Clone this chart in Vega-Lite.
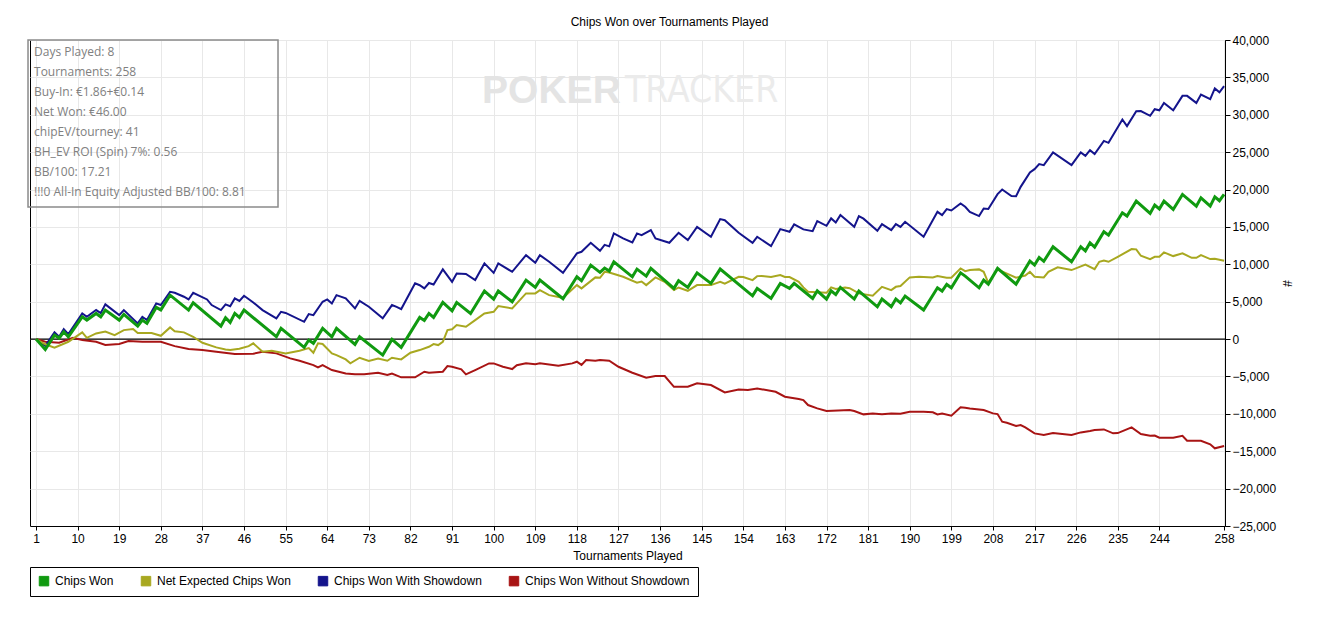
{
  "$schema": "https://vega.github.io/schema/vega-lite/v6.json",
  "autosize": {"type": "none"},
  "padding": {"left": 30, "top": 40, "right": 100, "bottom": 91},
  "width": 1195,
  "height": 486,
  "background": "white",
  "config": {
    "view": {"stroke": "#000", "strokeWidth": 1},
    "font": "Liberation Sans",
    "axis": {
      "labelFont": "Liberation Sans", "titleFont": "Liberation Sans",
      "labelFontSize": 12, "titleFontSize": 12, "titleFontWeight": "normal",
      "labelColor": "#000", "titleColor": "#000",
      "domainColor": "#000", "tickColor": "#000",
      "gridColor": "#e8e8e8", "labelFlush": false, "labelOverlap": false
    },
    "legend": {
      "labelFont": "Liberation Sans", "labelFontSize": 12, "labelColor": "#000", "labelLimit": 400
    }
  },
  "title": {
    "text": "Chips Won over Tournaments Played",
    "fontSize": 12, "fontWeight": "normal", "color": "#000",
    "font": "Liberation Sans", "offset": 5, "dx": 42
  },
  "datasets": {
    "won": [
      {"t":1,"v":0},{"t":3,"v":-1400},{"t":5,"v":530},{"t":6,"v":130},{"t":7,"v":980},{"t":8,"v":310},{"t":11,"v":2980},{"t":12,"v":2540},{"t":14,"v":3430},{"t":15,"v":2980},{"t":16,"v":3880},{"t":19,"v":2540},{"t":20,"v":3300},{"t":23,"v":1740},{"t":24,"v":2540},{"t":25,"v":2100},{"t":27,"v":4240},{"t":28,"v":3900},{"t":30,"v":5880},{"t":34,"v":3880},{"t":35,"v":4850},{"t":41,"v":1740},{"t":42,"v":2850},{"t":43,"v":2230},{"t":44,"v":3430},{"t":45,"v":2900},{"t":46,"v":3880},{"t":53,"v":310},{"t":54,"v":1430},{"t":59,"v":-1110},{"t":60,"v":-130},{"t":61,"v":-570},{"t":63,"v":1430},{"t":65,"v":310},{"t":66,"v":1430},{"t":70,"v":-710},{"t":71,"v":310},{"t":76,"v":-2140},{"t":78,"v":-40},{"t":80,"v":-1110},{"t":84,"v":2900},{"t":85,"v":2500},{"t":86,"v":3430},{"t":87,"v":2900},{"t":89,"v":4900},{"t":91,"v":3780},{"t":92,"v":4900},{"t":95,"v":3430},{"t":98,"v":6420},{"t":100,"v":5350},{"t":101,"v":6420},{"t":104,"v":4990},{"t":107,"v":7890},{"t":109,"v":6910},{"t":110,"v":7890},{"t":115,"v":5390},{"t":118,"v":8330},{"t":119,"v":7800},{"t":121,"v":9890},{"t":123,"v":8920},{"t":124,"v":9500},{"t":125,"v":9100},{"t":126,"v":10340},{"t":130,"v":8330},{"t":131,"v":9360},{"t":133,"v":8420},{"t":134,"v":9450},{"t":139,"v":6780},{"t":140,"v":7800},{"t":142,"v":6910},{"t":144,"v":8860},{"t":147,"v":7450},{"t":149,"v":9360},{"t":156,"v":5790},{"t":157,"v":6780},{"t":160,"v":5440},{"t":162,"v":7450},{"t":164,"v":6780},{"t":165,"v":7450},{"t":169,"v":5440},{"t":170,"v":6460},{"t":172,"v":5350},{"t":173,"v":6460},{"t":174,"v":5950},{"t":175,"v":6910},{"t":178,"v":5350},{"t":179,"v":6420},{"t":183,"v":4320},{"t":184,"v":5350},{"t":186,"v":4320},{"t":187,"v":5350},{"t":188,"v":4850},{"t":189,"v":5750},{"t":193,"v":3880},{"t":196,"v":6860},{"t":197,"v":6420},{"t":198,"v":7310},{"t":199,"v":6860},{"t":201,"v":8860},{"t":202,"v":8420},{"t":205,"v":6860},{"t":206,"v":7890},{"t":207,"v":7350},{"t":209,"v":9450},{"t":213,"v":7350},{"t":216,"v":10430},{"t":217,"v":9900},{"t":218,"v":10920},{"t":219,"v":10400},{"t":221,"v":12340},{"t":225,"v":10340},{"t":227,"v":12340},{"t":228,"v":11800},{"t":229,"v":12880},{"t":230,"v":12300},{"t":232,"v":14350},{"t":233,"v":13900},{"t":236,"v":16890},{"t":237,"v":16450},{"t":239,"v":18450},{"t":242,"v":16800},{"t":243,"v":17920},{"t":244,"v":17400},{"t":245,"v":18450},{"t":247,"v":17340},{"t":249,"v":19350},{"t":252,"v":17780},{"t":253,"v":18890},{"t":255,"v":17780},{"t":256,"v":19030},{"t":257,"v":18500},{"t":258,"v":19350}
    ],
    "ev": [
      {"t":1,"v":0},{"t":3,"v":-700},{"t":5,"v":-1160},{"t":8,"v":-360},{"t":11,"v":900},{"t":12,"v":170},{"t":14,"v":760},{"t":16,"v":1000},{"t":18,"v":530},{"t":20,"v":1200},{"t":22,"v":1340},{"t":23,"v":800},{"t":26,"v":800},{"t":28,"v":440},{"t":30,"v":1560},{"t":31,"v":1050},{"t":33,"v":900},{"t":35,"v":310},{"t":37,"v":-490},{"t":40,"v":-1110},{"t":42,"v":-1380},{"t":43,"v":-1470},{"t":45,"v":-1300},{"t":47,"v":-940},{"t":48,"v":-570},{"t":50,"v":-1700},{"t":52,"v":-1560},{"t":55,"v":-1910},{"t":58,"v":-1560},{"t":60,"v":-1200},{"t":61,"v":-1830},{"t":62,"v":-570},{"t":63,"v":-650},{"t":65,"v":-1910},{"t":66,"v":-2140},{"t":68,"v":-2720},{"t":69,"v":-3250},{"t":71,"v":-2500},{"t":73,"v":-2940},{"t":75,"v":-2600},{"t":77,"v":-2900},{"t":78,"v":-2500},{"t":80,"v":-2720},{"t":82,"v":-1830},{"t":84,"v":-1470},{"t":86,"v":-1030},{"t":87,"v":-670},{"t":88,"v":-800},{"t":89,"v":-360},{"t":90,"v":1200},{"t":91,"v":1300},{"t":92,"v":1870},{"t":94,"v":1650},{"t":96,"v":2540},{"t":98,"v":3430},{"t":100,"v":3650},{"t":101,"v":4410},{"t":104,"v":4100},{"t":106,"v":5440},{"t":107,"v":6110},{"t":109,"v":6110},{"t":110,"v":6550},{"t":112,"v":5880},{"t":115,"v":5520},{"t":118,"v":7220},{"t":119,"v":6780},{"t":122,"v":8250},{"t":123,"v":8200},{"t":124,"v":9000},{"t":125,"v":8900},{"t":128,"v":8330},{"t":131,"v":7530},{"t":132,"v":7700},{"t":133,"v":7220},{"t":135,"v":8250},{"t":137,"v":7660},{"t":139,"v":6550},{"t":140,"v":6900},{"t":142,"v":6460},{"t":144,"v":7220},{"t":147,"v":7220},{"t":149,"v":7660},{"t":150,"v":7400},{"t":153,"v":8330},{"t":154,"v":8300},{"t":156,"v":7890},{"t":157,"v":8420},{"t":158,"v":8450},{"t":160,"v":8300},{"t":162,"v":8560},{"t":163,"v":8300},{"t":164,"v":8300},{"t":166,"v":7660},{"t":167,"v":6910},{"t":168,"v":6320},{"t":172,"v":6190},{"t":173,"v":6910},{"t":174,"v":6700},{"t":176,"v":6910},{"t":177,"v":6800},{"t":179,"v":6110},{"t":182,"v":5790},{"t":184,"v":6990},{"t":186,"v":6550},{"t":187,"v":6990},{"t":188,"v":7100},{"t":190,"v":8250},{"t":192,"v":8330},{"t":195,"v":8250},{"t":196,"v":8420},{"t":198,"v":8200},{"t":199,"v":8200},{"t":201,"v":9450},{"t":202,"v":9090},{"t":203,"v":9230},{"t":205,"v":9320},{"t":206,"v":9000},{"t":207,"v":7530},{"t":209,"v":9320},{"t":213,"v":8200},{"t":215,"v":8500},{"t":216,"v":9000},{"t":217,"v":8330},{"t":219,"v":8250},{"t":220,"v":9000},{"t":222,"v":9590},{"t":225,"v":9230},{"t":228,"v":9950},{"t":230,"v":9360},{"t":231,"v":10340},{"t":232,"v":10500},{"t":233,"v":10340},{"t":235,"v":11000},{"t":238,"v":12030},{"t":239,"v":12000},{"t":240,"v":11140},{"t":242,"v":10700},{"t":243,"v":11000},{"t":244,"v":11000},{"t":245,"v":11590},{"t":247,"v":11100},{"t":249,"v":11460},{"t":251,"v":10870},{"t":252,"v":10870},{"t":253,"v":11230},{"t":255,"v":10700},{"t":256,"v":10750},{"t":258,"v":10470}
    ],
    "sd": [
      {"t":1,"v":0},{"t":3,"v":-900},{"t":5,"v":900},{"t":6,"v":300},{"t":7,"v":1340},{"t":8,"v":670},{"t":11,"v":3430},{"t":12,"v":2980},{"t":14,"v":3880},{"t":15,"v":3470},{"t":16,"v":4640},{"t":19,"v":3200},{"t":20,"v":3880},{"t":23,"v":2100},{"t":24,"v":2980},{"t":25,"v":2540},{"t":27,"v":4770},{"t":28,"v":4550},{"t":30,"v":6330},{"t":31,"v":6200},{"t":33,"v":5660},{"t":34,"v":5300},{"t":35,"v":6190},{"t":38,"v":5300},{"t":39,"v":4550},{"t":41,"v":3880},{"t":42,"v":4640},{"t":43,"v":4400},{"t":44,"v":5440},{"t":45,"v":5100},{"t":46,"v":5790},{"t":48,"v":4900},{"t":50,"v":3880},{"t":53,"v":2770},{"t":54,"v":3650},{"t":55,"v":3500},{"t":59,"v":2310},{"t":60,"v":3340},{"t":61,"v":3200},{"t":63,"v":4990},{"t":64,"v":5300},{"t":65,"v":4770},{"t":66,"v":5880},{"t":68,"v":5440},{"t":70,"v":4100},{"t":71,"v":5120},{"t":73,"v":4320},{"t":76,"v":2770},{"t":78,"v":4550},{"t":79,"v":4300},{"t":80,"v":4010},{"t":83,"v":7450},{"t":84,"v":7200},{"t":85,"v":6780},{"t":86,"v":7500},{"t":87,"v":7300},{"t":89,"v":9320},{"t":91,"v":7660},{"t":92,"v":8780},{"t":94,"v":8700},{"t":96,"v":7890},{"t":98,"v":10120},{"t":100,"v":8860},{"t":101,"v":10120},{"t":104,"v":9000},{"t":107,"v":11230},{"t":109,"v":10200},{"t":110,"v":11230},{"t":112,"v":10340},{"t":115,"v":8860},{"t":118,"v":11460},{"t":119,"v":11670},{"t":121,"v":12880},{"t":123,"v":11810},{"t":124,"v":12600},{"t":125,"v":12400},{"t":126,"v":14130},{"t":128,"v":13460},{"t":130,"v":12930},{"t":131,"v":14130},{"t":132,"v":13900},{"t":134,"v":14570},{"t":135,"v":13460},{"t":138,"v":12880},{"t":140,"v":14210},{"t":142,"v":13240},{"t":144,"v":15010},{"t":147,"v":13680},{"t":149,"v":16040},{"t":150,"v":15900},{"t":153,"v":14210},{"t":156,"v":12880},{"t":157,"v":13680},{"t":160,"v":12430},{"t":162,"v":14710},{"t":164,"v":14350},{"t":165,"v":15340},{"t":167,"v":14670},{"t":169,"v":14440},{"t":170,"v":15780},{"t":172,"v":15150},{"t":173,"v":16140},{"t":174,"v":15600},{"t":175,"v":16580},{"t":178,"v":15010},{"t":179,"v":16440},{"t":180,"v":16100},{"t":183,"v":14480},{"t":184,"v":15380},{"t":186,"v":14570},{"t":187,"v":15380},{"t":188,"v":15000},{"t":189,"v":15690},{"t":193,"v":13680},{"t":196,"v":17020},{"t":197,"v":16580},{"t":198,"v":17380},{"t":199,"v":17200},{"t":201,"v":18140},{"t":202,"v":17690},{"t":203,"v":17020},{"t":205,"v":16450},{"t":206,"v":17470},{"t":207,"v":17400},{"t":209,"v":19390},{"t":210,"v":20010},{"t":212,"v":19120},{"t":213,"v":19100},{"t":214,"v":20360},{"t":216,"v":22290},{"t":217,"v":22730},{"t":218,"v":23400},{"t":219,"v":23260},{"t":221,"v":24960},{"t":225,"v":23260},{"t":227,"v":24960},{"t":228,"v":24500},{"t":229,"v":25270},{"t":230,"v":24740},{"t":232,"v":26510},{"t":233,"v":26250},{"t":236,"v":29370},{"t":237,"v":28480},{"t":239,"v":30480},{"t":240,"v":30500},{"t":242,"v":29860},{"t":243,"v":30750},{"t":244,"v":30600},{"t":245,"v":31590},{"t":247,"v":30610},{"t":249,"v":32530},{"t":250,"v":32530},{"t":252,"v":31590},{"t":253,"v":32710},{"t":255,"v":32090},{"t":256,"v":33520},{"t":257,"v":33000},{"t":258,"v":33830}
    ],
    "nsd": [
      {"t":1,"v":0},{"t":3,"v":-360},{"t":6,"v":-490},{"t":9,"v":170},{"t":11,"v":-130},{"t":14,"v":-360},{"t":16,"v":-800},{"t":19,"v":-650},{"t":21,"v":-270},{"t":24,"v":-360},{"t":28,"v":-360},{"t":31,"v":-940},{"t":34,"v":-1340},{"t":37,"v":-1470},{"t":40,"v":-1700},{"t":44,"v":-2010},{"t":48,"v":-1960},{"t":50,"v":-1700},{"t":53,"v":-1910},{"t":56,"v":-2580},{"t":58,"v":-2900},{"t":61,"v":-3480},{"t":62,"v":-3790},{"t":63,"v":-3480},{"t":65,"v":-4140},{"t":68,"v":-4590},{"t":70,"v":-4720},{"t":72,"v":-4720},{"t":75,"v":-4500},{"t":77,"v":-4800},{"t":78,"v":-4600},{"t":80,"v":-5120},{"t":83,"v":-5120},{"t":85,"v":-4370},{"t":86,"v":-4500},{"t":89,"v":-4370},{"t":90,"v":-3610},{"t":91,"v":-3700},{"t":93,"v":-4050},{"t":94,"v":-4720},{"t":96,"v":-4140},{"t":99,"v":-3250},{"t":100,"v":-3250},{"t":102,"v":-3700},{"t":104,"v":-4010},{"t":105,"v":-3500},{"t":107,"v":-3250},{"t":109,"v":-3350},{"t":110,"v":-3250},{"t":114,"v":-3570},{"t":117,"v":-3250},{"t":118,"v":-3030},{"t":119,"v":-3450},{"t":120,"v":-2810},{"t":122,"v":-2900},{"t":123,"v":-2810},{"t":125,"v":-2900},{"t":127,"v":-3700},{"t":130,"v":-4500},{"t":133,"v":-5170},{"t":135,"v":-4950},{"t":137,"v":-4950},{"t":139,"v":-6380},{"t":142,"v":-6380},{"t":144,"v":-5920},{"t":147,"v":-6150},{"t":150,"v":-7130},{"t":153,"v":-6740},{"t":155,"v":-6800},{"t":157,"v":-6600},{"t":161,"v":-7050},{"t":163,"v":-7710},{"t":166,"v":-8020},{"t":167,"v":-8160},{"t":168,"v":-8820},{"t":170,"v":-9270},{"t":172,"v":-9630},{"t":177,"v":-9490},{"t":178,"v":-9630},{"t":180,"v":-10070},{"t":182,"v":-9950},{"t":184,"v":-10070},{"t":186,"v":-9950},{"t":188,"v":-10000},{"t":190,"v":-9720},{"t":193,"v":-9720},{"t":195,"v":-9800},{"t":196,"v":-10070},{"t":197,"v":-9950},{"t":199,"v":-10250},{"t":201,"v":-9130},{"t":202,"v":-9180},{"t":203,"v":-9270},{"t":206,"v":-9490},{"t":208,"v":-9940},{"t":209,"v":-10030},{"t":210,"v":-11050},{"t":211,"v":-11200},{"t":213,"v":-11630},{"t":214,"v":-11500},{"t":215,"v":-11810},{"t":217,"v":-12610},{"t":219,"v":-12840},{"t":221,"v":-12570},{"t":225,"v":-12840},{"t":227,"v":-12480},{"t":229,"v":-12300},{"t":230,"v":-12170},{"t":232,"v":-12080},{"t":234,"v":-12610},{"t":235,"v":-12570},{"t":238,"v":-11810},{"t":240,"v":-12700},{"t":242,"v":-12930},{"t":243,"v":-12900},{"t":244,"v":-13200},{"t":247,"v":-13200},{"t":249,"v":-12930},{"t":250,"v":-13600},{"t":253,"v":-13600},{"t":255,"v":-14080},{"t":256,"v":-14610},{"t":258,"v":-14310}
    ],
    "info": [
      {"lines": ["Days Played: 8", "Tournaments: 258", "Buy-In: €1.86+€0.14", "Net Won: €46.00", "chipEV/tourney: 41", "BH_EV ROI (Spin) 7%: 0.56", "BB/100: 17.21", "!!!0 All-In Equity Adjusted BB/100: 8.81"]}
    ],
    "mark": [
      {"word": "POKER"}
    ],
    "mark2": [
      {"word": "TRACKER"}
    ]
  },
  "layer": [
    {
      "data": {"name": "mark"},
      "mark": {"type": "text", "font": "Liberation Sans", "fontSize": 39, "fontWeight": "bold", "color": "#e4e4e4", "align": "left", "baseline": "middle"},
      "encoding": {
        "x": {"datum": 97.5, "type": "quantitative", "scale": {"domain": [-0.3, 258.2], "nice": false, "zero": false}, "axis": {"title": "Tournaments Played", "titlePadding": 6, "values": [1,10,19,28,37,46,55,64,73,82,91,100,109,118,127,136,145,154,163,172,181,190,199,208,217,226,235,244,258], "tickSize": 4, "labelPadding": 3, "grid": true}},
        "y": {"datum": 33200, "type": "quantitative", "scale": {"domain": [-25000, 40000], "nice": false, "zero": false}, "axis": {"orient": "right", "title": "#", "titlePadding": 4, "titleAngle": 90, "values": [-25000,-20000,-15000,-10000,-5000,0,5000,10000,15000,20000,25000,30000,35000,40000], "format": ",.0f", "labelOverlap": false, "tickSize": 5, "labelPadding": 2, "grid": true}},
        "text": {"field": "word"}
      }
    },
    {
      "data": {"name": "mark2"},
      "mark": {"type": "text", "font": "Liberation Sans Narrow, DejaVu Sans Condensed, sans-serif", "fontSize": 37, "color": "#ebebeb", "align": "left", "baseline": "middle"},
      "encoding": {
        "x": {"datum": 128.4, "type": "quantitative", "axis": {"title": "Tournaments Played", "titlePadding": 6, "values": [1,10,19,28,37,46,55,64,73,82,91,100,109,118,127,136,145,154,163,172,181,190,199,208,217,226,235,244,258], "tickSize": 4, "labelPadding": 3, "grid": true}},
        "y": {"datum": 33200, "type": "quantitative", "axis": {"orient": "right", "title": "#", "titlePadding": 4, "titleAngle": 90, "values": [-25000,-20000,-15000,-10000,-5000,0,5000,10000,15000,20000,25000,30000,35000,40000], "format": ",.0f", "labelOverlap": false, "tickSize": 5, "labelPadding": 2, "grid": true}},
        "text": {"field": "word"}
      }
    },
    {
      "data": {"values": [{}]},
      "mark": {"type": "rule", "color": "#000", "strokeWidth": 1.2},
      "encoding": {
        "y": {"datum": 0, "type": "quantitative", "axis": {"orient": "right", "title": "#", "titlePadding": 4, "titleAngle": 90, "values": [-25000,-20000,-15000,-10000,-5000,0,5000,10000,15000,20000,25000,30000,35000,40000], "format": ",.0f", "labelOverlap": false, "tickSize": 5, "labelPadding": 2, "grid": true}}
      }
    },
    {
      "data": {"name": "nsd"},
      "mark": {"type": "line", "strokeWidth": 2},
      "encoding": {
        "x": {"field": "t", "type": "quantitative", "axis": {"title": "Tournaments Played", "titlePadding": 6, "values": [1,10,19,28,37,46,55,64,73,82,91,100,109,118,127,136,145,154,163,172,181,190,199,208,217,226,235,244,258], "tickSize": 4, "labelPadding": 3, "grid": true}},
        "y": {"field": "v", "type": "quantitative", "axis": {"orient": "right", "title": "#", "titlePadding": 4, "titleAngle": 90, "values": [-25000,-20000,-15000,-10000,-5000,0,5000,10000,15000,20000,25000,30000,35000,40000], "format": ",.0f", "labelOverlap": false, "tickSize": 5, "labelPadding": 2, "grid": true}},
        "color": {
          "datum": "Chips Won Without Showdown", "type": "nominal",
          "scale": {
            "domain": ["Chips Won", "Net Expected Chips Won", "Chips Won With Showdown", "Chips Won Without Showdown"],
            "range": ["#109a10", "#a8a820", "#14148c", "#a81414"]
          },
          "legend": {
            "title": null, "orient": "none", "legendX": 0, "legendY": 527,
            "direction": "horizontal", "symbolType": "square", "symbolSize": 90,
            "symbolStrokeWidth": 1, "labelOffset": 5, "columnPadding": 25,
            "padding": 8, "strokeColor": "#000", "fillColor": "#fff", "labelLimit": 400,
            "encode": {
              "symbols": {
                "update": {
                  "fill": {"scale": "color", "field": "value"},
                  "stroke": {"value": "#000"},
                  "strokeWidth": {"value": 1},
                  "opacity": {"value": 1}
                }
              }
            }
          }
        }
      }
    },
    {
      "data": {"name": "sd"},
      "mark": {"type": "line", "strokeWidth": 2},
      "encoding": {
        "x": {"field": "t", "type": "quantitative", "axis": {"title": "Tournaments Played", "titlePadding": 6, "values": [1,10,19,28,37,46,55,64,73,82,91,100,109,118,127,136,145,154,163,172,181,190,199,208,217,226,235,244,258], "tickSize": 4, "labelPadding": 3, "grid": true}},
        "y": {"field": "v", "type": "quantitative", "axis": {"orient": "right", "title": "#", "titlePadding": 4, "titleAngle": 90, "values": [-25000,-20000,-15000,-10000,-5000,0,5000,10000,15000,20000,25000,30000,35000,40000], "format": ",.0f", "labelOverlap": false, "tickSize": 5, "labelPadding": 2, "grid": true}},
        "color": {"datum": "Chips Won With Showdown", "type": "nominal"}
      }
    },
    {
      "data": {"name": "ev"},
      "mark": {"type": "line", "strokeWidth": 2},
      "encoding": {
        "x": {"field": "t", "type": "quantitative", "axis": {"title": "Tournaments Played", "titlePadding": 6, "values": [1,10,19,28,37,46,55,64,73,82,91,100,109,118,127,136,145,154,163,172,181,190,199,208,217,226,235,244,258], "tickSize": 4, "labelPadding": 3, "grid": true}},
        "y": {"field": "v", "type": "quantitative", "axis": {"orient": "right", "title": "#", "titlePadding": 4, "titleAngle": 90, "values": [-25000,-20000,-15000,-10000,-5000,0,5000,10000,15000,20000,25000,30000,35000,40000], "format": ",.0f", "labelOverlap": false, "tickSize": 5, "labelPadding": 2, "grid": true}},
        "color": {"datum": "Net Expected Chips Won", "type": "nominal"}
      }
    },
    {
      "data": {"name": "won"},
      "mark": {"type": "line", "strokeWidth": 3},
      "encoding": {
        "x": {"field": "t", "type": "quantitative", "axis": {"title": "Tournaments Played", "titlePadding": 6, "values": [1,10,19,28,37,46,55,64,73,82,91,100,109,118,127,136,145,154,163,172,181,190,199,208,217,226,235,244,258], "tickSize": 4, "labelPadding": 3, "grid": true}},
        "y": {"field": "v", "type": "quantitative", "axis": {"orient": "right", "title": "#", "titlePadding": 4, "titleAngle": 90, "values": [-25000,-20000,-15000,-10000,-5000,0,5000,10000,15000,20000,25000,30000,35000,40000], "format": ",.0f", "labelOverlap": false, "tickSize": 5, "labelPadding": 2, "grid": true}},
        "color": {"datum": "Chips Won", "type": "nominal"}
      }
    },
    {
      "data": {"values": [{}]},
      "mark": {"type": "rect", "fill": "transparent", "stroke": "#8a8a8a", "strokeWidth": 1.5},
      "encoding": {
        "x": {"datum": -0.73, "type": "quantitative", "axis": {"title": "Tournaments Played", "titlePadding": 6, "values": [1,10,19,28,37,46,55,64,73,82,91,100,109,118,127,136,145,154,163,172,181,190,199,208,217,226,235,244,258], "tickSize": 4, "labelPadding": 3, "grid": true}},
        "x2": {"datum": 53.35},
        "y": {"datum": 40000, "type": "quantitative", "axis": {"orient": "right", "title": "#", "titlePadding": 4, "titleAngle": 90, "values": [-25000,-20000,-15000,-10000,-5000,0,5000,10000,15000,20000,25000,30000,35000,40000], "format": ",.0f", "labelOverlap": false, "tickSize": 5, "labelPadding": 2, "grid": true}},
        "y2": {"datum": 17665}
      }
    },
    {
      "data": {"name": "info"},
      "mark": {"type": "text", "font": "Open Sans", "fontSize": 12, "color": "#808080", "align": "left", "baseline": "top", "lineHeight": 20},
      "encoding": {
        "x": {"datum": 0.57, "type": "quantitative", "axis": {"title": "Tournaments Played", "titlePadding": 6, "values": [1,10,19,28,37,46,55,64,73,82,91,100,109,118,127,136,145,154,163,172,181,190,199,208,217,226,235,244,258], "tickSize": 4, "labelPadding": 3, "grid": true}},
        "y": {"datum": 39100, "type": "quantitative", "axis": {"orient": "right", "title": "#", "titlePadding": 4, "titleAngle": 90, "values": [-25000,-20000,-15000,-10000,-5000,0,5000,10000,15000,20000,25000,30000,35000,40000], "format": ",.0f", "labelOverlap": false, "tickSize": 5, "labelPadding": 2, "grid": true}},
        "text": {"field": "lines"}
      }
    }
  ]
}
